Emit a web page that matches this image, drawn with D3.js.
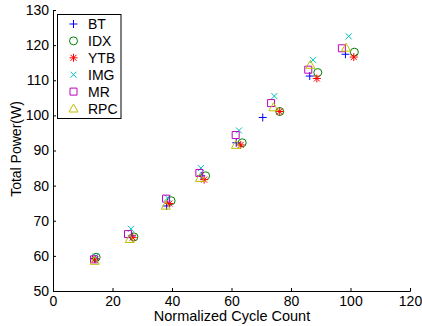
<!DOCTYPE html>
<html>
<head>
<meta charset="utf-8">
<script src="https://cdn.jsdelivr.net/npm/d3@7"></script>
<style>
  body { margin: 0; background: #fff; }
  svg { display: block; font-family: "Liberation Sans", Arial, sans-serif; }
</style>
</head>
<body>
<svg id="chart"></svg>
<script>
// series names, in legend order
var names = ['BT', 'IDX', 'YTB', 'IMG', 'MR', 'RPC'];

// x = normalized cycle count, y = total power (W)
var btX  = [14.0, 26.5, 38.2, 49.8, 61.6, 70.5, 86.3, 98.3];
var btY  = [59.2, 65.7, 74.2, 82.8, 92.2, 99.4, 111.2, 117.4];
var idxX = [14.5, 27.2, 39.7, 51.3, 63.6, 76.2, 89.0, 101.3];
var idxY = [59.6, 65.4, 75.7, 82.8, 92.2, 101.1, 112.2, 118.0];
var ytbX = [14.2, 26.8, 39.1, 50.8, 63.1, 76.2, 88.7, 101.1];
var ytbY = [59.1, 65.2, 74.9, 81.7, 91.6, 101.1, 110.5, 116.6];
var imgX = [14.3, 26.2, 38.5, 49.7, 62.5, 74.4, 87.4, 99.4];
var imgY = [59.8, 67.7, 76.5, 85.0, 95.7, 105.5, 115.8, 122.5];
var mrX  = [13.8, 25.2, 38.0, 49.2, 61.4, 73.3, 85.8, 97.1];
var mrY  = [59.0, 66.2, 76.3, 83.6, 94.4, 103.5, 113.0, 119.1];
var rpcX = [14.0, 25.8, 37.9, 49.4, 61.5, 74.1, 86.5, 98.5];
var rpcY = [58.6, 64.8, 74.3, 82.2, 91.6, 102.3, 114.4, 119.3];

var xTicks = [0, 20, 40, 60, 80, 100, 120];
var yTicks = [50, 60, 70, 80, 90, 100, 110, 120, 130];

var series = [
  {name: names[0], xs: btX,  ys: btY,  color: '#0000ff', shape: 'plus'},
  {name: names[1], xs: idxX, ys: idxY, color: '#008000', shape: 'circle'},
  {name: names[2], xs: ytbX, ys: ytbY, color: '#ff0000', shape: 'star'},
  {name: names[3], xs: imgX, ys: imgY, color: '#00bfbf', shape: 'cross'},
  {name: names[4], xs: mrX,  ys: mrY,  color: '#bf00bf', shape: 'square'},
  {name: names[5], xs: rpcX, ys: rpcY, color: '#bfbf00', shape: 'triangle'}
];

var W = 422, H = 326;
var svg = d3.select('#chart').attr('width', W).attr('height', H);

var x = d3.scaleLinear().domain([0, 120]).range([53, 410]);
var y = d3.scaleLinear().domain([50, 130]).range([291, 10]);

// marker path, centred at 0,0
function markerPath(shape) {
  var p = d3.path();
  if (shape === 'plus') {
    p.moveTo(-4, 0); p.lineTo(4, 0); p.moveTo(0, -4); p.lineTo(0, 4);
  } else if (shape === 'circle') {
    p.arc(0, 0, 4, 0, 2 * Math.PI);
  } else if (shape === 'star') {
    p.moveTo(-4, 0); p.lineTo(4, 0); p.moveTo(0, -4); p.lineTo(0, 4);
    p.moveTo(-3, -3); p.lineTo(3, 3); p.moveTo(-3, 3); p.lineTo(3, -3);
  } else if (shape === 'cross') {
    p.moveTo(-3, -3); p.lineTo(3, 3); p.moveTo(-3, 3); p.lineTo(3, -3);
  } else if (shape === 'square') {
    p.rect(-3.5, -3.5, 7, 7);
  } else if (shape === 'triangle') {
    p.moveTo(0, -4.5); p.lineTo(4.5, 3.5); p.lineTo(-4.5, 3.5); p.closePath();
  }
  return p.toString();
}

// axes (MATLAB style: ticks inside, no box)
var xAxis = d3.axisBottom(x).tickValues(xTicks).tickSize(-3).tickPadding(5).tickFormat(d3.format('d'));
var yAxis = d3.axisLeft(y).tickValues(yTicks).tickSize(-3).tickPadding(4).tickFormat(d3.format('d'));

var gx = svg.append('g').attr('transform', 'translate(0,291)').call(xAxis);
var gy = svg.append('g').attr('transform', 'translate(53,0)').call(yAxis);

[gx, gy].forEach(function(g) {
  g.select('.domain').attr('stroke', '#000').attr('stroke-width', 1);
  g.selectAll('.tick line').attr('stroke', '#000');
  g.selectAll('.tick text').attr('fill', '#000').style('font-size', '14px')
    .style('font-family', '"Liberation Sans", Arial, sans-serif');
});

// points
series.forEach(function(s) {
  svg.append('g').selectAll('path')
    .data(s.xs.map(function(v, i) { return [v, s.ys[i]]; }))
    .enter()
    .append('path')
      .attr('d', markerPath(s.shape))
      .attr('transform', function(d) { return 'translate(' + x(d[0]) + ',' + y(d[1]) + ')'; })
      .attr('fill', 'none')
      .attr('stroke', s.color)
      .attr('stroke-width', 1);
});

// axis titles
svg.append('text')
  .attr('x', 232).attr('y', 321)
  .attr('text-anchor', 'middle')
  .style('font-size', '14.5px')
  .text('Normalized Cycle Count');

svg.append('text')
  .attr('transform', 'translate(20.5,149) rotate(-90)')
  .attr('text-anchor', 'middle')
  .style('font-size', '14px')
  .text('Total Power(W)');

// legend
var legend = svg.append('g');
legend.append('rect')
  .attr('x', 57.5).attr('y', 14.5).attr('width', 63.5).attr('height', 104)
  .attr('fill', '#fff').attr('stroke', '#000');

series.forEach(function(s, i) {
  var ly = 24 + i * 16.9;
  legend.append('path')
    .attr('d', markerPath(s.shape))
    .attr('transform', 'translate(73.5,' + ly + ')')
    .attr('fill', 'none').attr('stroke', s.color);
  legend.append('text')
    .attr('x', 88).attr('y', ly + 5)
    .style('font-size', '14px')
    .text(s.name);
});
</script>
</body>
</html>
